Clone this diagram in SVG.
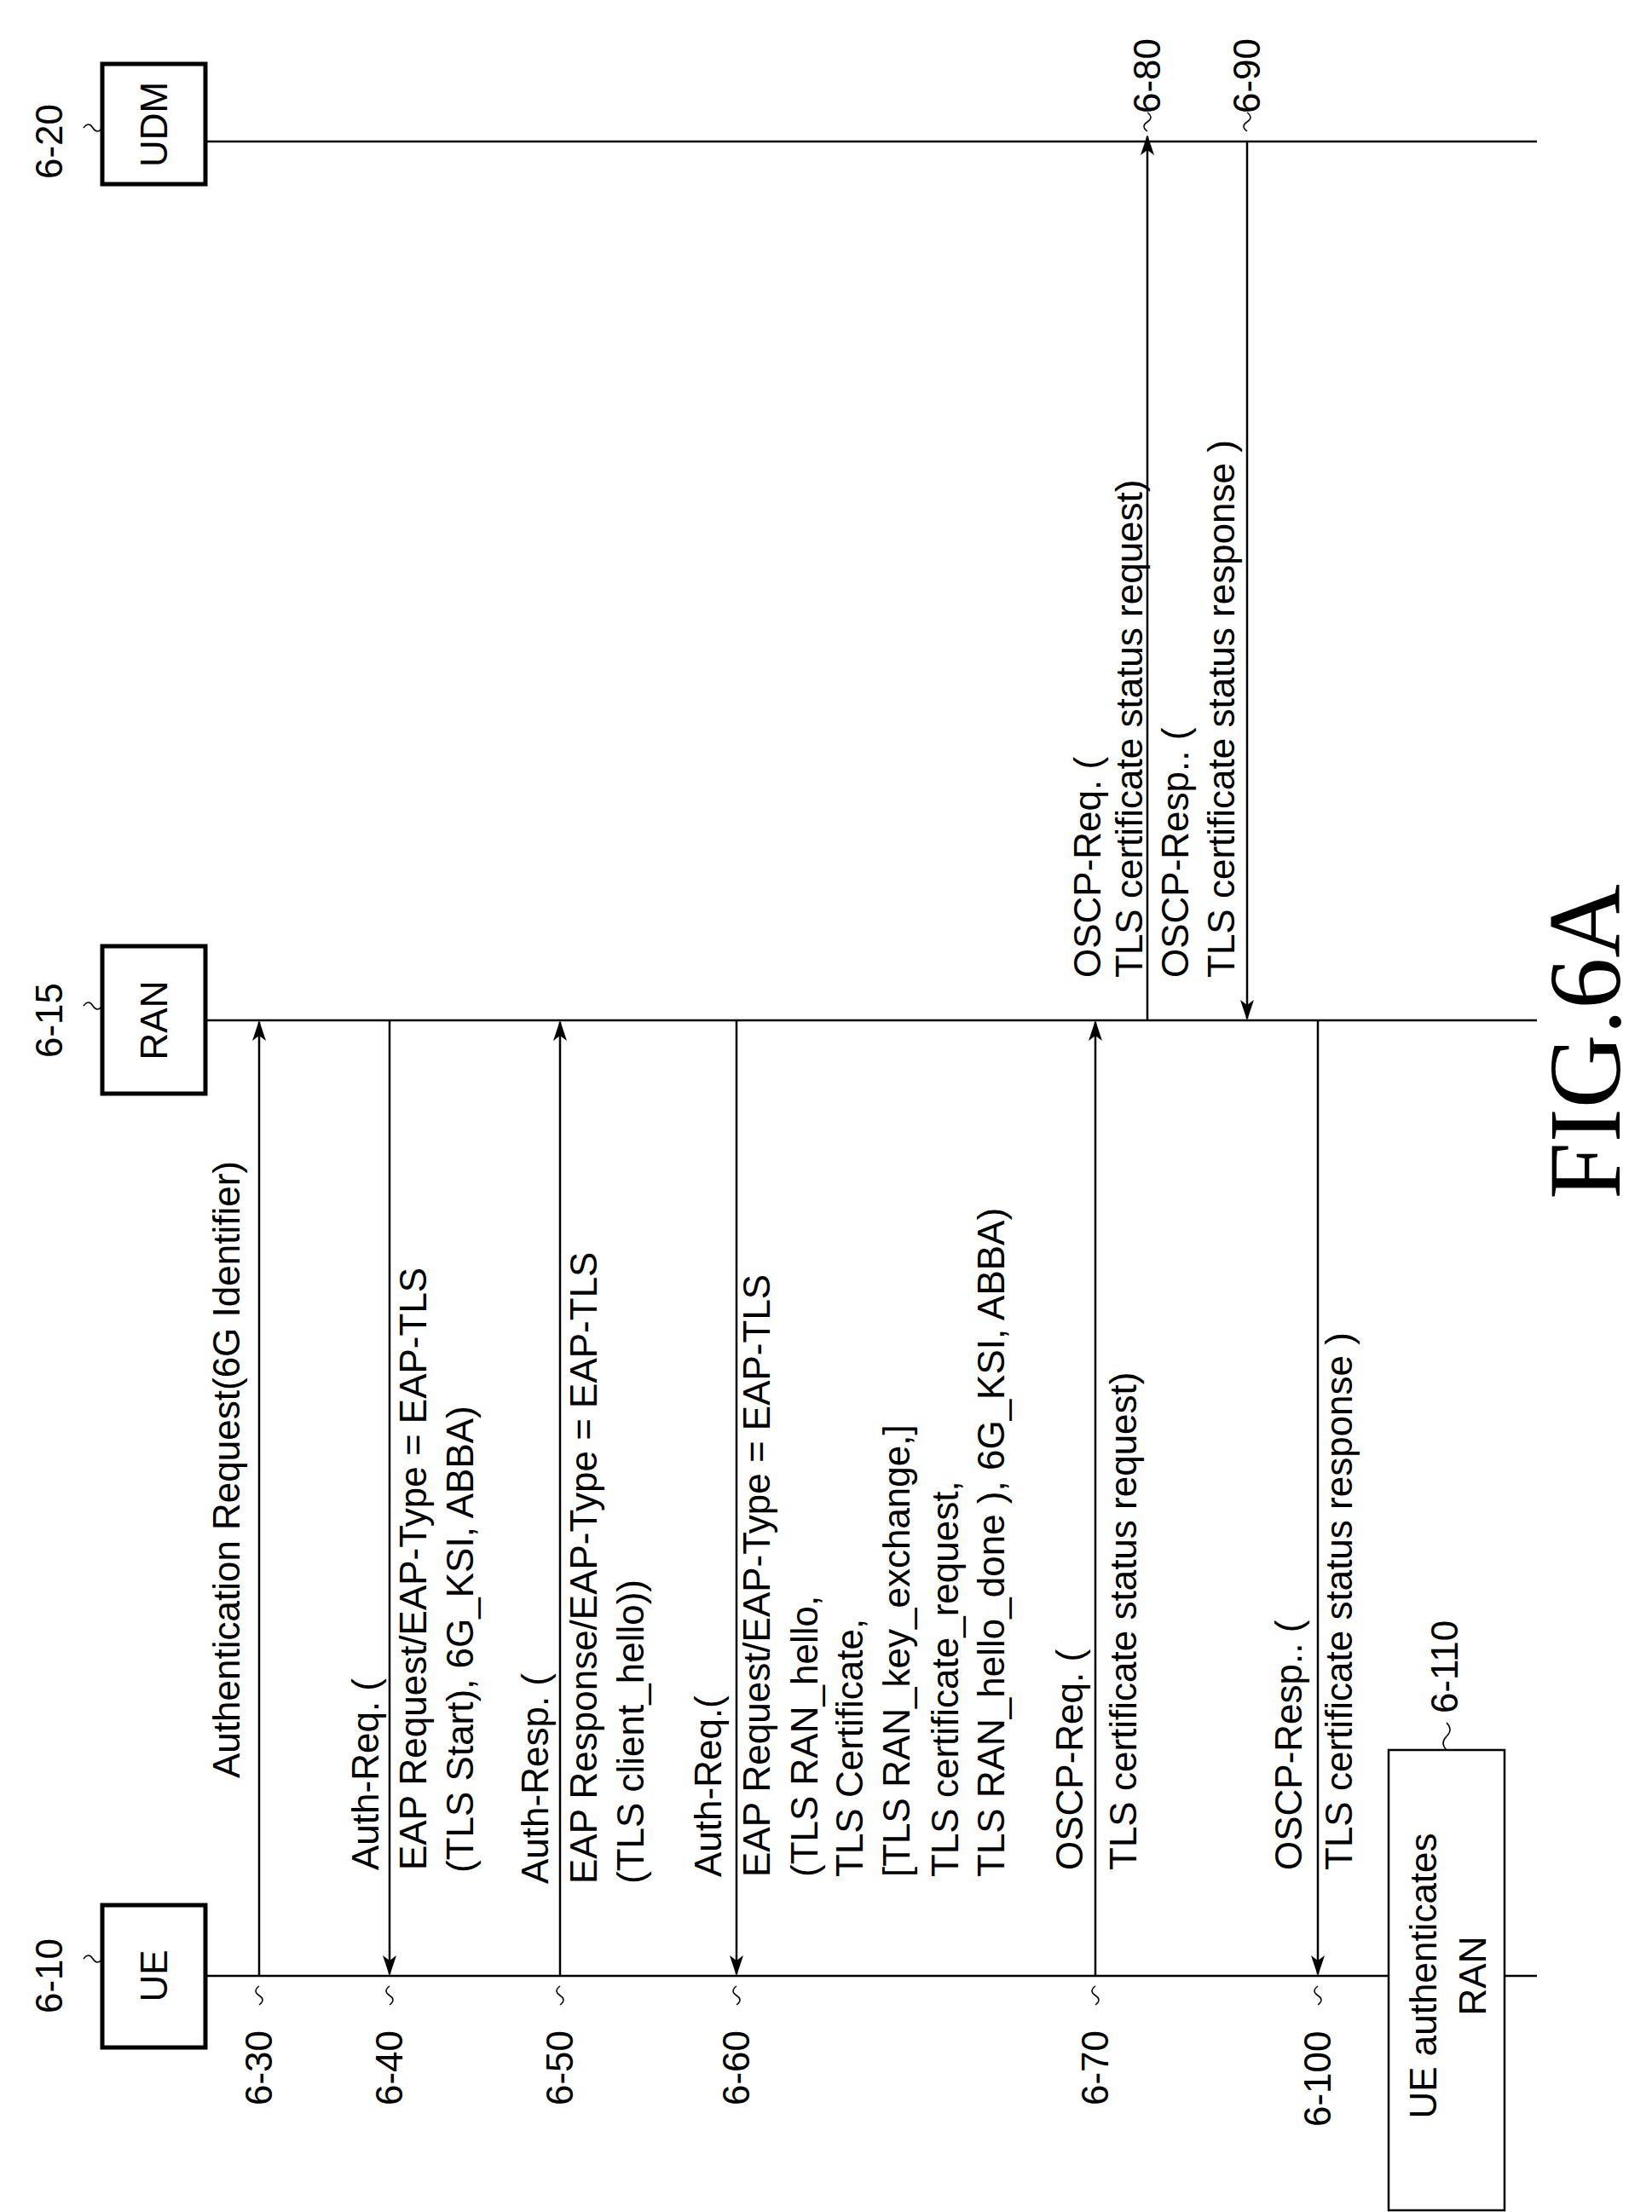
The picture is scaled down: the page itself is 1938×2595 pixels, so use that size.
<svg xmlns="http://www.w3.org/2000/svg" width="1938" height="2595" viewBox="0 0 1938 2595">
<style>
.t{font-family:"Liberation Sans",Arial,sans-serif;font-size:44px;fill:#000}
.ln{stroke:#000;stroke-width:2.5;fill:none}
.box{stroke:#000;stroke-width:5;fill:#fff}
.sq{stroke:#000;stroke-width:1.5;fill:none}
</style>
<defs>
<marker id="ah" markerWidth="24" markerHeight="16" refX="22" refY="8" orient="auto" markerUnits="userSpaceOnUse">
<path d="M0,0 L24,8 L0,16 L6,8 z" fill="#000"/>
</marker>
</defs>
<rect width="1938" height="2595" fill="#fff"/>
<g id="lifelines">
<line class="ln" x1="241" y1="2318" x2="1803" y2="2318"/>
<line class="ln" x1="241" y1="1197" x2="1803" y2="1197"/>
<line class="ln" x1="241" y1="166" x2="1803" y2="166"/>
</g>
<g id="ue"><rect class="box" x="120" y="2235" width="121" height="167"/><text class="t" transform="translate(196,2318) rotate(-90)" text-anchor="middle">UE</text>
<text class="t" transform="translate(73,2318) rotate(-90)" text-anchor="middle">6-10</text><path class="sq" d="M98,2298 q6,-8 11,0 q5,8 11,0"/></g>
<g id="ran"><rect class="box" x="120" y="1110" width="121" height="173"/><text class="t" transform="translate(196,1197) rotate(-90)" text-anchor="middle">RAN</text>
<text class="t" transform="translate(73,1197) rotate(-90)" text-anchor="middle">6-15</text><path class="sq" d="M98,1180 q6,-8 11,0 q5,8 11,0"/></g>
<g id="udm"><rect class="box" x="120" y="75" width="121" height="141"/><text class="t" transform="translate(196,146) rotate(-90)" text-anchor="middle">UDM</text>
<text class="t" transform="translate(73,166) rotate(-90)" text-anchor="middle">6-20</text><path class="sq" d="M98,150 q6,-8 11,0 q5,8 11,0"/></g>
<g id="connectors">
<line class="ln" x1="304" y1="2318" x2="304" y2="1199" marker-end="url(#ah)"/>
<line class="ln" x1="457" y1="1197" x2="457" y2="2316" marker-end="url(#ah)"/>
<line class="ln" x1="657" y1="2318" x2="657" y2="1199" marker-end="url(#ah)"/>
<line class="ln" x1="864" y1="1197" x2="864" y2="2316" marker-end="url(#ah)"/>
<line class="ln" x1="1285" y1="2318" x2="1285" y2="1199" marker-end="url(#ah)"/>
<line class="ln" x1="1346" y1="1197" x2="1346" y2="160" marker-end="url(#ah)"/>
<line class="ln" x1="1463" y1="166" x2="1463" y2="1195" marker-end="url(#ah)"/>
<line class="ln" x1="1546" y1="1197" x2="1546" y2="2316" marker-end="url(#ah)"/>
</g>
<g id="msg-labels">
<text class="t" transform="translate(281,2086) rotate(-90)">Authentication Request(6G Identifier)</text>
<text class="t" transform="translate(444,2194) rotate(-90)">Auth-Req. (</text>
<text class="t" transform="translate(500,2194) rotate(-90)">EAP Request/EAP-Type = EAP-TLS</text>
<text class="t" transform="translate(555,2197) rotate(-90)">(TLS Start), 6G_KSI, ABBA)</text>
<text class="t" transform="translate(643,2210) rotate(-90)">Auth-Resp. (</text>
<text class="t" transform="translate(700,2210) rotate(-90)">EAP Response/EAP-Type = EAP-TLS</text>
<text class="t" transform="translate(755,2210) rotate(-90)">(TLS client_hello))</text>
<text class="t" transform="translate(846,2202) rotate(-90)">Auth-Req.(</text>
<text class="t" transform="translate(903,2202) rotate(-90)">EAP Request/EAP-Type = EAP-TLS</text>
<text class="t" transform="translate(959,2202) rotate(-90)"> (TLS RAN_hello,</text>
<text class="t" transform="translate(1012,2202) rotate(-90)">  TLS Certificate,</text>
<text class="t" transform="translate(1067,2202) rotate(-90)">  [TLS RAN_key_exchange,]</text>
<text class="t" transform="translate(1124,2202) rotate(-90)">  TLS certificate_request,</text>
<text class="t" transform="translate(1178,2202) rotate(-90)">  TLS RAN_hello_done ), 6G_KSI, ABBA)</text>
<text class="t" transform="translate(1270,2194) rotate(-90)">OSCP-Req. (</text>
<text class="t" transform="translate(1333,2194) rotate(-90)">TLS certificate status request)</text>
<text class="t" transform="translate(1291,1147) rotate(-90)">OSCP-Req. (</text>
<text class="t" transform="translate(1340,1147) rotate(-90)">TLS certificate status request)</text>
<text class="t" transform="translate(1394,1147) rotate(-90)">OSCP-Resp.. (</text>
<text class="t" transform="translate(1448,1147) rotate(-90)">TLS certificate status response )</text>
<text class="t" transform="translate(1527,2194) rotate(-90)">OSCP-Resp.. (</text>
<text class="t" transform="translate(1586,2194) rotate(-90)">TLS certificate status response )</text>
</g>
<g id="step-labels">
<path class="sq" d="M304,2330 q-8,6 0,11 q8,5 0,11"/><text class="t" transform="translate(319,2470) rotate(-90)">6-30</text>
<path class="sq" d="M457,2330 q-8,6 0,11 q8,5 0,11"/><text class="t" transform="translate(472,2470) rotate(-90)">6-40</text>
<path class="sq" d="M657,2330 q-8,6 0,11 q8,5 0,11"/><text class="t" transform="translate(672,2470) rotate(-90)">6-50</text>
<path class="sq" d="M864,2330 q-8,6 0,11 q8,5 0,11"/><text class="t" transform="translate(879,2470) rotate(-90)">6-60</text>
<path class="sq" d="M1285,2330 q-8,6 0,11 q8,5 0,11"/><text class="t" transform="translate(1300,2470) rotate(-90)">6-70</text>
<path class="sq" d="M1546,2330 q-8,6 0,11 q8,5 0,11"/><text class="t" transform="translate(1561,2495) rotate(-90)">6-100</text>
<path class="sq" d="M1346,154 q-8,-6 0,-11 q8,-5 0,-11"/><text class="t" transform="translate(1361,133) rotate(-90)">6-80</text>
<path class="sq" d="M1463,154 q-8,-6 0,-11 q8,-5 0,-11"/><text class="t" transform="translate(1478,133) rotate(-90)">6-90</text>
</g>
<g id="ue-auth">
<rect x="1629" y="2053" width="136" height="540" fill="#fff" stroke="#000" stroke-width="2.5"/>
<text class="t" transform="translate(1685,2318) rotate(-90)" text-anchor="middle">UE authenticates</text>
<text class="t" transform="translate(1743,2318) rotate(-90)" text-anchor="middle">RAN</text>
<path class="sq" d="M1697,2053 q-8,-8 0,-16 q8,-8 0,-16"/>
<text class="t" transform="translate(1710,2010) rotate(-90)">6-110</text>
</g>
<text transform="translate(1900,1222) rotate(-90)" text-anchor="middle" font-family="Liberation Serif,Times New Roman,serif" font-size="120">FIG.6A</text>
</svg>
